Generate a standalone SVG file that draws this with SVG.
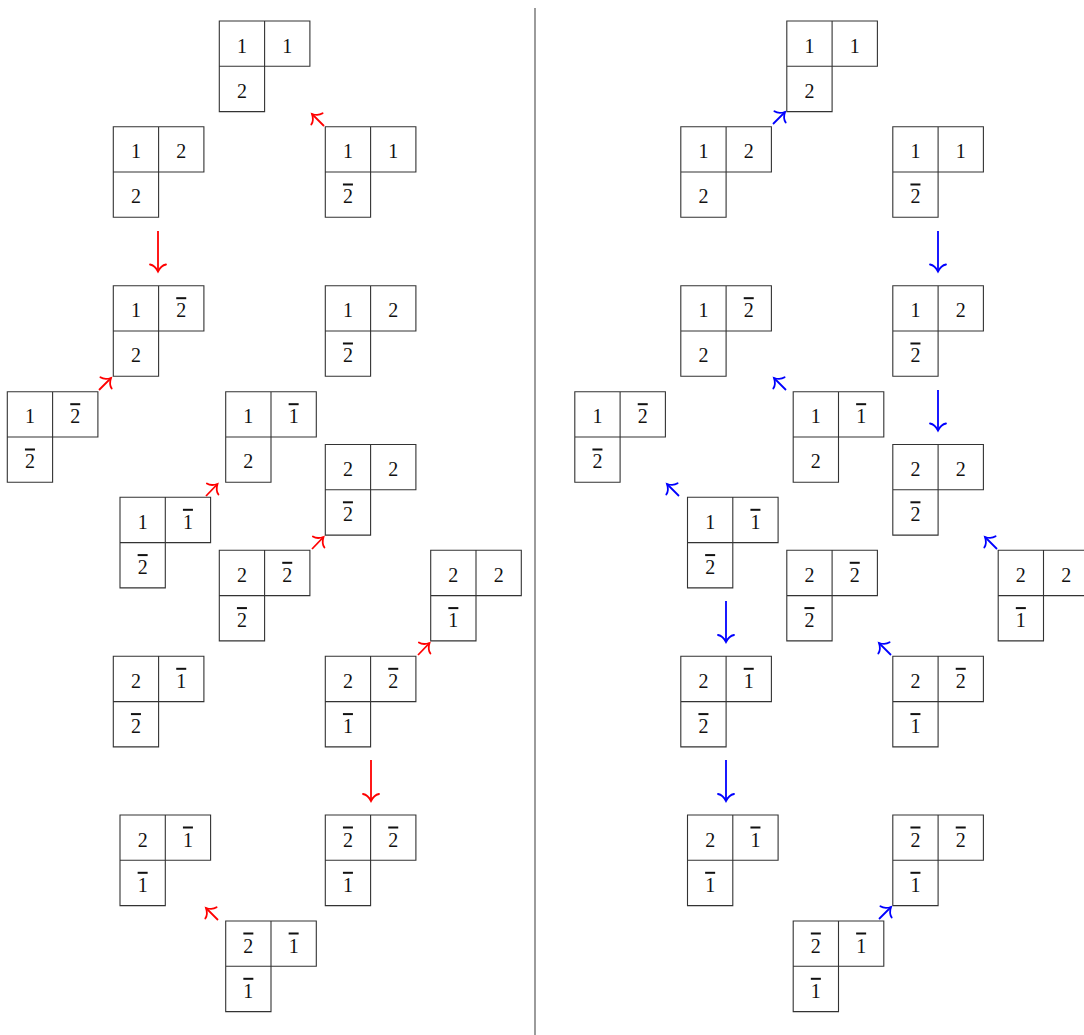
<svg xmlns="http://www.w3.org/2000/svg" xmlns:xlink="http://www.w3.org/1999/xlink" width="1084" height="1035" viewBox="0 0 1084 1035">
<style>
.frame{fill:none;stroke:#333;stroke-width:1.1}
.n{font-family:"Liberation Serif","Times New Roman",serif;font-size:20px;text-anchor:middle;fill:#111}
.b{text-decoration:overline;text-decoration-thickness:1.2px}
.red{stroke:#ff0000;stroke-width:1.8;fill:none}
.blue{stroke:#0000ff;stroke-width:1.8;fill:none}
.div{stroke:#666;stroke-width:1.3}
</style>
<defs>
<path id="tab" class="frame" d="M0,0 H90.6 V45.3 H45.3 V90.6 H0 Z M45.3,0 V45.3 M0,45.3 H45.3"/>
<marker id="hr" markerUnits="userSpaceOnUse" markerWidth="20" markerHeight="20" viewBox="-10 -10 20 20" refX="0" refY="0" orient="auto" overflow="visible">
<path d="M-7,-8 C-6,-3 -2,-1 0,0 C-2,1 -6,3 -7,8" fill="none" stroke="#ff0000" stroke-width="1.8" stroke-linecap="round"/>
</marker>
<marker id="hb" markerUnits="userSpaceOnUse" markerWidth="20" markerHeight="20" viewBox="-10 -10 20 20" refX="0" refY="0" orient="auto" overflow="visible">
<path d="M-7,-8 C-6,-3 -2,-1 0,0 C-2,1 -6,3 -7,8" fill="none" stroke="#0000ff" stroke-width="1.8" stroke-linecap="round"/>
</marker>
</defs>
<rect width="1084" height="1035" fill="#fff"/>
<line class="div" x1="535" y1="8" x2="535" y2="1035"/>

<!-- Left side -->
<g id="L1" transform="translate(219.3,21)"><use xlink:href="#tab"/><text class="n" x="22.65" y="31.5">1</text><text class="n" x="67.95" y="31.5">1</text><text class="n" x="22.65" y="76.8">2</text></g>
<g id="L2" transform="translate(113.3,126.7)"><use xlink:href="#tab"/><text class="n" x="22.65" y="31.5">1</text><text class="n" x="67.95" y="31.5">2</text><text class="n" x="22.65" y="76.8">2</text></g>
<g id="L3" transform="translate(325.3,126.7)"><use xlink:href="#tab"/><text class="n" x="22.65" y="31.5">1</text><text class="n" x="67.95" y="31.5">1</text><text class="n b" x="22.65" y="76.8">2</text></g>
<g id="L4" transform="translate(113.3,285.7)"><use xlink:href="#tab"/><text class="n" x="22.65" y="31.5">1</text><text class="n b" x="67.95" y="31.5">2</text><text class="n" x="22.65" y="76.8">2</text></g>
<g id="L5" transform="translate(325.3,285.7)"><use xlink:href="#tab"/><text class="n" x="22.65" y="31.5">1</text><text class="n" x="67.95" y="31.5">2</text><text class="n b" x="22.65" y="76.8">2</text></g>
<g id="L6" transform="translate(7.3,391.7)"><use xlink:href="#tab"/><text class="n" x="22.65" y="31.5">1</text><text class="n b" x="67.95" y="31.5">2</text><text class="n b" x="22.65" y="76.8">2</text></g>
<g id="L7" transform="translate(225.7,391.7)"><use xlink:href="#tab"/><text class="n" x="22.65" y="31.5">1</text><text class="n b" x="67.95" y="31.5">1</text><text class="n" x="22.65" y="76.8">2</text></g>
<g id="L8" transform="translate(325.3,444.5)"><use xlink:href="#tab"/><text class="n" x="22.65" y="31.5">2</text><text class="n" x="67.95" y="31.5">2</text><text class="n b" x="22.65" y="76.8">2</text></g>
<g id="L9" transform="translate(120,497.3)"><use xlink:href="#tab"/><text class="n" x="22.65" y="31.5">1</text><text class="n b" x="67.95" y="31.5">1</text><text class="n b" x="22.65" y="76.8">2</text></g>
<g id="L10" transform="translate(219.3,550.3)"><use xlink:href="#tab"/><text class="n" x="22.65" y="31.5">2</text><text class="n b" x="67.95" y="31.5">2</text><text class="n b" x="22.65" y="76.8">2</text></g>
<g id="L11" transform="translate(430.7,550.3)"><use xlink:href="#tab"/><text class="n" x="22.65" y="31.5">2</text><text class="n" x="67.95" y="31.5">2</text><text class="n b" x="22.65" y="76.8">1</text></g>
<g id="L12" transform="translate(113.3,656.3)"><use xlink:href="#tab"/><text class="n" x="22.65" y="31.5">2</text><text class="n b" x="67.95" y="31.5">1</text><text class="n b" x="22.65" y="76.8">2</text></g>
<g id="L13" transform="translate(325.3,656.3)"><use xlink:href="#tab"/><text class="n" x="22.65" y="31.5">2</text><text class="n b" x="67.95" y="31.5">2</text><text class="n b" x="22.65" y="76.8">1</text></g>
<g id="L14" transform="translate(120,815)"><use xlink:href="#tab"/><text class="n" x="22.65" y="31.5">2</text><text class="n b" x="67.95" y="31.5">1</text><text class="n b" x="22.65" y="76.8">1</text></g>
<g id="L15" transform="translate(325.3,815)"><use xlink:href="#tab"/><text class="n b" x="22.65" y="31.5">2</text><text class="n b" x="67.95" y="31.5">2</text><text class="n b" x="22.65" y="76.8">1</text></g>
<g id="L16" transform="translate(225.7,921)"><use xlink:href="#tab"/><text class="n b" x="22.65" y="31.5">2</text><text class="n b" x="67.95" y="31.5">1</text><text class="n b" x="22.65" y="76.8">1</text></g>

<!-- Right side -->
<g id="R1" transform="translate(786.8,21)"><use xlink:href="#tab"/><text class="n" x="22.65" y="31.5">1</text><text class="n" x="67.95" y="31.5">1</text><text class="n" x="22.65" y="76.8">2</text></g>
<g id="R2" transform="translate(680.8,126.7)"><use xlink:href="#tab"/><text class="n" x="22.65" y="31.5">1</text><text class="n" x="67.95" y="31.5">2</text><text class="n" x="22.65" y="76.8">2</text></g>
<g id="R3" transform="translate(892.8,126.7)"><use xlink:href="#tab"/><text class="n" x="22.65" y="31.5">1</text><text class="n" x="67.95" y="31.5">1</text><text class="n b" x="22.65" y="76.8">2</text></g>
<g id="R4" transform="translate(680.8,285.7)"><use xlink:href="#tab"/><text class="n" x="22.65" y="31.5">1</text><text class="n b" x="67.95" y="31.5">2</text><text class="n" x="22.65" y="76.8">2</text></g>
<g id="R5" transform="translate(892.8,285.7)"><use xlink:href="#tab"/><text class="n" x="22.65" y="31.5">1</text><text class="n" x="67.95" y="31.5">2</text><text class="n b" x="22.65" y="76.8">2</text></g>
<g id="R6" transform="translate(574.8,391.7)"><use xlink:href="#tab"/><text class="n" x="22.65" y="31.5">1</text><text class="n b" x="67.95" y="31.5">2</text><text class="n b" x="22.65" y="76.8">2</text></g>
<g id="R7" transform="translate(793.2,391.7)"><use xlink:href="#tab"/><text class="n" x="22.65" y="31.5">1</text><text class="n b" x="67.95" y="31.5">1</text><text class="n" x="22.65" y="76.8">2</text></g>
<g id="R8" transform="translate(892.8,444.5)"><use xlink:href="#tab"/><text class="n" x="22.65" y="31.5">2</text><text class="n" x="67.95" y="31.5">2</text><text class="n b" x="22.65" y="76.8">2</text></g>
<g id="R9" transform="translate(687.5,497.3)"><use xlink:href="#tab"/><text class="n" x="22.65" y="31.5">1</text><text class="n b" x="67.95" y="31.5">1</text><text class="n b" x="22.65" y="76.8">2</text></g>
<g id="R10" transform="translate(786.8,550.3)"><use xlink:href="#tab"/><text class="n" x="22.65" y="31.5">2</text><text class="n b" x="67.95" y="31.5">2</text><text class="n b" x="22.65" y="76.8">2</text></g>
<g id="R11" transform="translate(998.2,550.3)"><use xlink:href="#tab"/><text class="n" x="22.65" y="31.5">2</text><text class="n" x="67.95" y="31.5">2</text><text class="n b" x="22.65" y="76.8">1</text></g>
<g id="R12" transform="translate(680.8,656.3)"><use xlink:href="#tab"/><text class="n" x="22.65" y="31.5">2</text><text class="n b" x="67.95" y="31.5">1</text><text class="n b" x="22.65" y="76.8">2</text></g>
<g id="R13" transform="translate(892.8,656.3)"><use xlink:href="#tab"/><text class="n" x="22.65" y="31.5">2</text><text class="n b" x="67.95" y="31.5">2</text><text class="n b" x="22.65" y="76.8">1</text></g>
<g id="R14" transform="translate(687.5,815)"><use xlink:href="#tab"/><text class="n" x="22.65" y="31.5">2</text><text class="n b" x="67.95" y="31.5">1</text><text class="n b" x="22.65" y="76.8">1</text></g>
<g id="R15" transform="translate(892.8,815)"><use xlink:href="#tab"/><text class="n b" x="22.65" y="31.5">2</text><text class="n b" x="67.95" y="31.5">2</text><text class="n b" x="22.65" y="76.8">1</text></g>
<g id="R16" transform="translate(793.2,921)"><use xlink:href="#tab"/><text class="n b" x="22.65" y="31.5">2</text><text class="n b" x="67.95" y="31.5">1</text><text class="n b" x="22.65" y="76.8">1</text></g>

<g id="connectors">
<path class="red" marker-end="url(#hr)" d="M324,126 L312,114"/>
<path class="red" marker-end="url(#hr)" d="M158,231 L158,271.5"/>
<path class="red" marker-end="url(#hr)" d="M99,390 L111,378"/>
<path class="red" marker-end="url(#hr)" d="M206,496 L217.5,484"/>
<path class="red" marker-end="url(#hr)" d="M312,549 L323.5,537"/>
<path class="red" marker-end="url(#hr)" d="M418,655 L429.5,643"/>
<path class="red" marker-end="url(#hr)" d="M371,760 L371,801"/>
<path class="red" marker-end="url(#hr)" d="M218,920 L206,908"/>

<path class="blue" marker-end="url(#hb)" d="M773,124 L785,112"/>
<path class="blue" marker-end="url(#hb)" d="M938,231 L938,271.5"/>
<path class="blue" marker-end="url(#hb)" d="M786,390 L774,378"/>
<path class="blue" marker-end="url(#hb)" d="M938,390 L938,430.5"/>
<path class="blue" marker-end="url(#hb)" d="M679,496 L667,484"/>
<path class="blue" marker-end="url(#hb)" d="M997,549 L985,537"/>
<path class="blue" marker-end="url(#hb)" d="M726,601 L726,642"/>
<path class="blue" marker-end="url(#hb)" d="M891,655 L879,643"/>
<path class="blue" marker-end="url(#hb)" d="M726,760 L726,801"/>
<path class="blue" marker-end="url(#hb)" d="M879,919 L891,907"/>
</g>
</svg>
